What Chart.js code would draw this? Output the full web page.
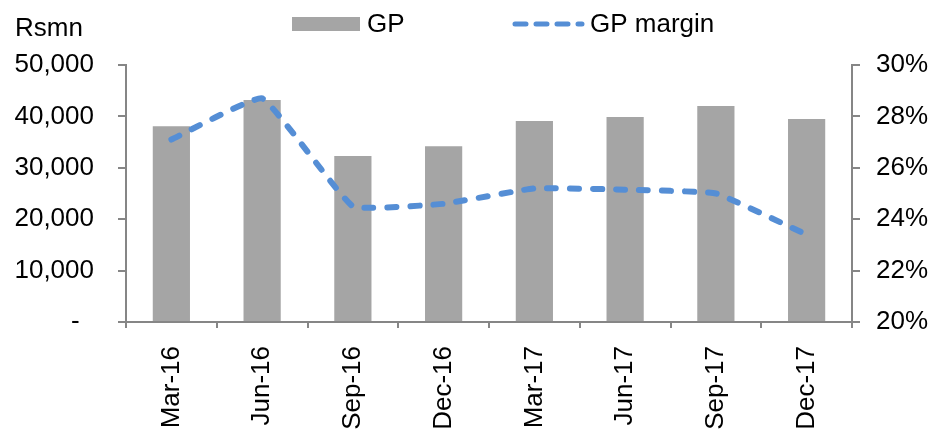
<!DOCTYPE html>
<html>
<head>
<meta charset="utf-8">
<script src="https://cdn.jsdelivr.net/npm/chart.js@4/dist/chart.umd.min.js"></script>
<style>
  html, body { margin: 0; padding: 0; background: #ffffff; }
  #wrap { width: 934px; height: 430px; }
</style>
</head>
<body>
<div id="wrap"><canvas id="c" width="934" height="430"></canvas></div>
<script>
// Quarterly gross profit (Rs mn) and gross margin (%)
const quarters = ['Mar-16', 'Jun-16', 'Sep-16', 'Dec-16', 'Mar-17', 'Jun-17', 'Sep-17', 'Dec-17'];
const grossProfit = [38100, 43200, 32300, 34200, 39100, 39900, 42000, 39500];
const grossMargin = [27.1, 28.7, 24.5, 24.6, 25.2, 25.15, 25.0, 23.4];
const seriesNames = ['GP', 'GP margin'];
const unitLabel = 'Rsmn';

const barColor = '#A5A5A5';
const lineColor = '#558ED5';
const axisColor = '#868686';
const fontFamily = '"Liberation Sans", Arial, sans-serif';

// Unit caption and legend drawn above the plot
const headerPlugin = {
  id: 'header',
  afterDraw(chart) {
    const ctx = chart.ctx;
    ctx.save();
    ctx.font = '26px ' + fontFamily;
    ctx.fillStyle = '#000000';
    ctx.textBaseline = 'middle';
    ctx.textAlign = 'left';
    ctx.fillText(unitLabel, 15, 29);

    ctx.fillStyle = barColor;
    ctx.fillRect(292, 17, 68, 14);
    ctx.fillStyle = '#000000';
    ctx.fillText(seriesNames[0], 367, 25);

    ctx.strokeStyle = lineColor;
    ctx.lineWidth = 5;
    ctx.lineCap = 'round';
    ctx.setLineDash([11, 10]);
    ctx.beginPath();
    ctx.moveTo(515, 24);
    ctx.lineTo(582, 24);
    ctx.stroke();
    ctx.setLineDash([]);
    ctx.fillText(seriesNames[1], 590, 25);
    ctx.restore();
  }
};

new Chart(document.getElementById('c'), {
  data: {
    labels: quarters,
    datasets: [
      {
        type: 'line',
        label: seriesNames[1],
        data: grossMargin,
        yAxisID: 'yRight',
        borderColor: lineColor,
        borderWidth: 6,
        borderDash: [9, 14],
        borderCapStyle: 'round',
        borderJoinStyle: 'round',
        tension: 0.1,
        pointRadius: 0,
        fill: false,
        order: 0
      },
      {
        type: 'bar',
        label: seriesNames[0],
        data: grossProfit,
        yAxisID: 'yLeft',
        backgroundColor: barColor,
        borderWidth: 0,
        barPercentage: 0.41,
        categoryPercentage: 1.0,
        order: 1
      }
    ]
  },
  options: {
    responsive: false,
    animation: false,
    layout: { padding: { top: 65, bottom: 0, left: 0, right: 0 } },
    plugins: {
      legend: { display: false },
      tooltip: { enabled: false }
    },
    scales: {
      x: {
        offset: true,
        grid: {
          offset: true,
          drawOnChartArea: false,
          drawTicks: true,
          tickLength: 6,
          color: axisColor,
          lineWidth: 2
        },
        border: { display: true, color: axisColor, width: 2 },
        ticks: {
          color: '#000000',
          font: { family: fontFamily, size: 26 },
          minRotation: 90,
          maxRotation: 90,
          padding: 18,
          autoSkip: false
        },
        afterFit(scale) { scale.height = 108; }
      },
      yLeft: {
        position: 'left',
        min: 0,
        max: 50000,
        grid: {
          drawOnChartArea: false,
          drawTicks: true,
          tickLength: 8,
          color: axisColor,
          lineWidth: 2
        },
        border: { display: true, color: axisColor, width: 2 },
        ticks: {
          stepSize: 10000,
          color: '#000000',
          font: { family: fontFamily, size: 26 },
          padding: 24,
          callback: (v) => v === 0 ? '-  ' : v.toLocaleString('en-US')
        },
        afterFit(scale) { scale.width = 126; }
      },
      yRight: {
        position: 'right',
        min: 20,
        max: 30,
        grid: {
          drawOnChartArea: false,
          drawTicks: true,
          tickLength: 8,
          color: axisColor,
          lineWidth: 2
        },
        border: { display: true, color: axisColor, width: 2 },
        ticks: {
          stepSize: 2,
          color: '#000000',
          font: { family: fontFamily, size: 26 },
          padding: 16,
          callback: (v) => Math.round(v) + '%'
        },
        afterFit(scale) { scale.width = 82; }
      }
    }
  },
  plugins: [headerPlugin]
});
</script>
</body>
</html>
